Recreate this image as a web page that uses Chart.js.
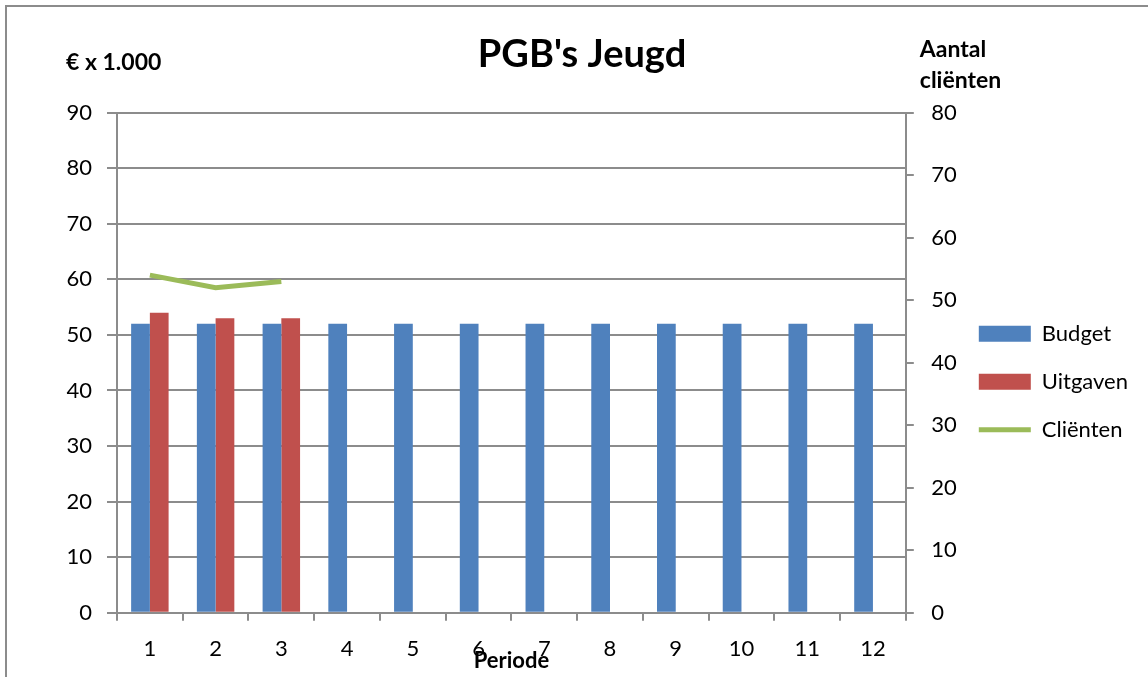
<!DOCTYPE html>
<html>
<head>
<meta charset="utf-8">
<title>PGB's Jeugd</title>
<script src="https://cdn.jsdelivr.net/npm/chart.js@4"></script>
<style>
    body { margin: 0; background: #fff; }
    #wrap { position: relative; width: 1148px; height: 677px; overflow: hidden; }
    #frame { position: absolute; left: 5px; top: 5px; width: 1200px; height: 800px; border-left: 2px solid #8c8c8c; border-top: 2px solid #8c8c8c; }
    canvas { position: absolute; left: 0; top: 0; }
</style>
</head>
<body>
<div id="wrap">
    <div id="frame"></div>
    <canvas id="chart" width="1148" height="677"></canvas>
</div>
<script>
const periods = ["1", "2", "3", "4", "5", "6", "7", "8", "9", "10", "11", "12"]
const budget = [52, 52, 52, 52, 52, 52, 52, 52, 52, 52, 52, 52]
const uitgaven = [54, 53, 53, null, null, null, null, null, null, null, null, null]
const clienten = [54, 52, 53, null, null, null, null, null, null, null, null, null]

const fontName = "Lato, 'Open Sans', sans-serif"
const gridGray = "#8c8c8c"

// axis titles sit horizontally above each y axis, like in Excel
const axisTitles = {
    id: "axisTitles",
    afterDraw(chart) {
        const ctx = chart.ctx
        const area = chart.chartArea
        ctx.save()
        ctx.fillStyle = "#000"
        ctx.font = "bold 23px " + fontName
        ctx.textAlign = "left"
        ctx.textBaseline = "middle"
        ctx.fillText("€ x 1.000", area.left - 51, area.top - 50)
        ctx.fillText("Aantal", area.right + 14, area.top - 63)
        ctx.fillText("cliënten", area.right + 14, area.top - 32)
        ctx.restore()
    }
}

new Chart(document.getElementById("chart"), {
    type: "bar",
    data: {
        labels: periods,
        datasets: [{
            label: "Budget",
            data: budget,
            backgroundColor: "#4F81BD",
            borderWidth: 0,
            yAxisID: "y"
        }, {
            label: "Uitgaven",
            data: uitgaven,
            backgroundColor: "#C0504D",
            borderWidth: 0,
            yAxisID: "y"
        }, {
            type: "line",
            label: "Cliënten",
            data: clienten,
            borderColor: "#9BBB59",
            backgroundColor: "#9BBB59",
            borderWidth: 5,
            pointRadius: 0,
            tension: 0,
            order: -1,
            yAxisID: "y1"
        }]
    },
    options: {
        responsive: false,
        animation: false,
        categoryPercentage: 0.57,
        barPercentage: 1,
        layout: {
            padding: { left: 26, right: 10, top: 0, bottom: 0 }
        },
        plugins: {
            tooltip: { enabled: false },
            title: {
                display: true,
                text: "PGB's Jeugd",
                color: "#000",
                font: { family: fontName, size: 38, weight: "bold" },
                padding: { top: 32, bottom: 35 }
            },
            legend: {
                position: "right",
                // empty title only pushes the legend items down a bit
                title: {
                    display: true,
                    text: "",
                    font: { size: 12 },
                    padding: { top: 72, bottom: 0 }
                },
                labels: {
                    color: "#000",
                    font: { family: fontName, size: 22 },
                    usePointStyle: true,
                    pointStyleWidth: 52,
                    boxHeight: 16,
                    padding: 26,
                    sort: (a, b) => a.datasetIndex - b.datasetIndex,
                    generateLabels: function (chart) {
                        const items = Chart.defaults.plugins.legend.labels.generateLabels(chart)
                        for (let item of items) {
                            item.pointStyle = item.datasetIndex === 2 ? "line" : "rect"
                        }
                        return items
                    }
                }
            }
        },
        scales: {
            x: {
                ticks: {
                    color: "#000",
                    font: { family: fontName, size: 22 },
                    padding: 15,
                    maxRotation: 0
                },
                grid: {
                    display: true,
                    drawOnChartArea: false,
                    drawTicks: true,
                    tickLength: 8,
                    color: gridGray,
                    lineWidth: 2,
                    offset: true
                },
                border: { color: gridGray, width: 2 },
                title: {
                    display: true,
                    text: "Periode",
                    color: "#000",
                    font: { family: fontName, size: 22, weight: "bold" },
                    padding: { top: 0, bottom: 1 }
                },
                afterFit: function (scale) { scale.height = 62 }
            },
            y: {
                position: "left",
                min: 0,
                max: 90,
                ticks: {
                    stepSize: 10,
                    color: "#000",
                    font: { family: fontName, size: 22 },
                    padding: 15
                },
                grid: {
                    color: gridGray,
                    lineWidth: 2,
                    tickLength: 10
                },
                border: { color: gridGray, width: 2 },
                afterFit: function (scale) { scale.width = 91 }
            },
            y1: {
                position: "right",
                min: 0,
                max: 80,
                ticks: {
                    stepSize: 10,
                    color: "#000",
                    font: { family: fontName, size: 22 },
                    // mirrored so the labels are not clipped by the narrow axis box
                    mirror: true,
                    crossAlign: "far",
                    padding: 51
                },
                grid: {
                    drawOnChartArea: false,
                    color: gridGray,
                    lineWidth: 2,
                    tickLength: 8
                },
                border: { color: gridGray, width: 2 },
                afterFit: function (scale) { scale.width = 47 }
            }
        }
    },
    plugins: [axisTitles]
})
</script>
</body>
</html>
